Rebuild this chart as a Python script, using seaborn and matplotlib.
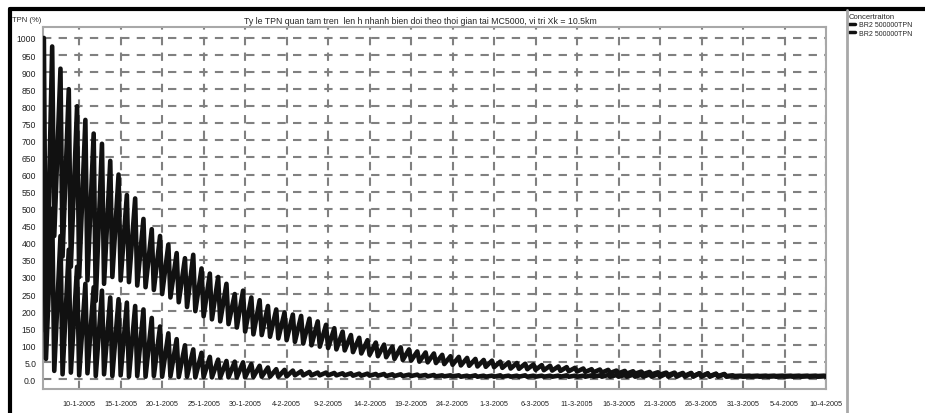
import matplotlib
matplotlib.use("Agg")
import matplotlib.pyplot as plt
import matplotlib.dates as mdates
from matplotlib.lines import Line2D
from matplotlib.ticker import MultipleLocator, FixedLocator, FixedFormatter
import numpy as np
import pandas as pd
import seaborn as sns

sns.set_style("white")
plt.rcParams["font.family"] = ["Liberation Sans", "DejaVu Sans"]

# --- DATA ---
# one high (start of the day) and one low (a quarter day later) per day
start = "2005-01-05 18:00"

a_high = [1000, 975, 910, 850, 800, 760, 720, 690, 640, 600,
          540, 530, 470, 440, 420, 395, 370, 355, 365, 325,
          310, 300, 280, 250, 260, 240, 232, 215, 205, 196,
          190, 186, 178, 170, 160, 150, 140, 130, 122, 115,
          108, 102, 96, 94, 88, 82, 79, 76, 72, 68,
          66, 63, 60, 57, 55, 52, 50, 48, 46, 44,
          42, 40, 38, 36, 34, 32, 30, 29, 28, 26,
          25, 24, 23, 22, 21, 20, 20, 19, 19, 18,
          18, 17, 16, 12, 11, 11, 11, 11, 11, 11,
          11, 11, 11, 11, 11, 11]
a_low = [140, 420, 360, 330, 300, 290, 230, 280, 300, 290,
         285, 275, 270, 262, 250, 240, 226, 212, 200, 185,
         176, 170, 162, 152, 140, 132, 130, 125, 120, 115,
         110, 105, 100, 96, 92, 88, 85, 80, 76, 72,
         68, 65, 60, 57, 55, 52, 50, 48, 45, 43,
         41, 40, 38, 37, 36, 34, 32, 31, 30, 28,
         27, 26, 25, 24, 23, 22, 21, 20, 19, 18,
         17, 17, 16, 15, 14, 13, 12, 11, 10, 10,
         10, 10, 10, 10, 10, 10, 10, 10, 10, 10,
         10, 10, 10, 10, 10, 10]
b_high = [620, 500, 420, 380, 330, 280, 270, 260, 240, 235,
          225, 215, 205, 180, 155, 135, 118, 100, 88, 78,
          66, 58, 54, 52, 50, 45, 40, 35, 30, 28,
          26, 24, 22, 20, 20, 19, 18, 18, 17, 17,
          16, 16, 15, 15, 14, 14, 13, 13, 12, 12,
          12, 11, 12, 11, 11, 12, 11, 11, 12, 11,
          11, 11, 11, 12, 11, 11, 12, 12, 13, 13,
          13, 14, 14, 15, 16, 17, 18, 17, 18, 18,
          17, 16, 15, 10, 9, 9, 9, 9, 9, 9,
          9, 9, 9, 9, 9, 9]
b_low = [60, 25, 15, 20, 12, 18, 10, 15, 10, 12,
         8, 10, 8, 10, 8, 9, 7, 8, 6, 7,
         6, 6, 6, 6, 6, 7, 8, 8, 8, 9,
         12, 12, 12, 12, 12, 12, 12, 11, 11, 11,
         11, 10, 10, 10, 10, 10, 9, 9, 9, 9,
         8, 8, 8, 8, 8, 8, 8, 8, 8, 8,
         8, 8, 8, 8, 8, 8, 8, 8, 8, 8,
         8, 8, 8, 8, 8, 8, 8, 8, 8, 8,
         8, 8, 8, 8, 8, 8, 8, 8, 8, 8,
         8, 8, 8, 8, 8, 8]

series_label = "BR2 500000TPN"
y_ticks = [0, 50, 100, 150, 200, 250, 300, 350, 400, 450, 500,
           550, 600, 650, 700, 750, 800, 850, 900, 950, 1000]
y_labels = ["0.0", "5.0", "100", "150", "200", "250", "300", "350", "400", "450", "500",
            "550", "600", "650", "700", "750", "800", "850", "900", "950", "1000"]
x_labels = ["10-1-2005", "15-1-2005", "20-1-2005", "25-1-2005", "30-1-2005",
            "4-2-2005", "9-2-2005", "14-2-2005", "19-2-2005", "24-2-2005",
            "1-3-2005", "6-3-2005", "11-3-2005", "16-3-2005", "21-3-2005",
            "26-3-2005", "31-3-2005", "5-4-2005", "10-4-2005"]

title = "Ty le TPN quan tam tren  len h nhanh bien doi theo thoi gian tai MC5000, vi tri Xk = 10.5km"

# --- long table ---
high_t = pd.date_range(start, periods=len(a_high), freq="D")
low_t = high_t + pd.Timedelta(hours=6)
times = np.column_stack([high_t.values, low_t.values]).ravel()
rows = []
for key, hi, lo in [("A", a_high, a_low), ("B", b_high, b_low)]:
    vals = np.column_stack([hi, lo]).ravel()
    for t, v in zip(times, vals):
        rows.append({"Series": key, "Time": pd.Timestamp(t), "TPN": v})
df = pd.DataFrame(rows)

# --- Plotting ---
W, H = 925, 414
fig = plt.figure(figsize=(W / 100, H / 100), dpi=100)
ax = fig.add_axes([42.5 / W, 1 - 390 / H, (826 - 42.5) / W, (390 - 28) / H])

for key in ["A", "B"]:
    sns.lineplot(data=df[df["Series"] == key], x="Time", y="TPN", color="#111111",
                 linewidth=3.3, estimator=None, label=series_label, ax=ax, zorder=3)

ax.set_xlim(pd.Timestamp("2005-01-05 14:00"), pd.Timestamp("2005-04-10 00:00"))
ax.set_ylim(-28, 1032)

x_pos = mdates.date2num(pd.to_datetime(x_labels, format="%d-%m-%Y"))
ax.xaxis.set_major_locator(FixedLocator(x_pos))
ax.xaxis.set_major_formatter(FixedFormatter(x_labels))
ax.xaxis.set_minor_locator(mdates.DayLocator())
ax.yaxis.set_major_locator(FixedLocator(y_ticks))
ax.yaxis.set_major_formatter(FixedFormatter(y_labels))
ax.yaxis.set_minor_locator(MultipleLocator(10))

ax.grid(True, which="major", color="#808080", linestyle=(0, (4, 3.5)), linewidth=1.5)
for sp in ax.spines.values():
    sp.set_color("#a8a8a8")
    sp.set_linewidth(1.5)

ax.tick_params(axis="both", which="major", direction="out", length=3, width=1.5,
               color="#808080", labelsize=6.2, labelcolor="#222222")
ax.tick_params(axis="both", which="minor", direction="out", length=2, width=1, color="#a8a8a8")
ax.tick_params(axis="x", which="major", pad=5, labelsize=5.2)
ax.tick_params(axis="y", which="major", pad=1.5)
ax.set_xlabel("")
ax.set_ylabel("")

fig.text(420 / W, 1 - 22 / H, title, ha="center", va="center", fontsize=6.3)
fig.text(12 / W, 1 - 20 / H, "TPN (%)", ha="left", va="center", fontsize=5.5)

leg = ax.legend(loc="upper left", bbox_to_anchor=(849 / W, 1 - 14 / H),
                bbox_transform=fig.transFigure, frameon=False, title="Concertraiton",
                fontsize=5, title_fontsize=5.5, handlelength=0.9, handletextpad=0.5,
                borderaxespad=0, borderpad=0, labelspacing=0.2, alignment="left")
for h in leg.get_lines():
    h.set_linewidth(2.5)

# window frame and separator
fig.add_artist(Line2D([9.5 / W, 1], [1 - 9.5 / H, 1 - 9.5 / H], transform=fig.transFigure,
                      color="black", linewidth=3))
fig.add_artist(Line2D([9.5 / W, 9.5 / W], [0, 1 - 9.5 / H], transform=fig.transFigure,
                      color="black", linewidth=3))
fig.add_artist(Line2D([847 / W, 847 / W], [0, 1 - 11 / H], transform=fig.transFigure,
                      color="#a8a8a8", linewidth=2))

fig.savefig("out.png", dpi=100)
